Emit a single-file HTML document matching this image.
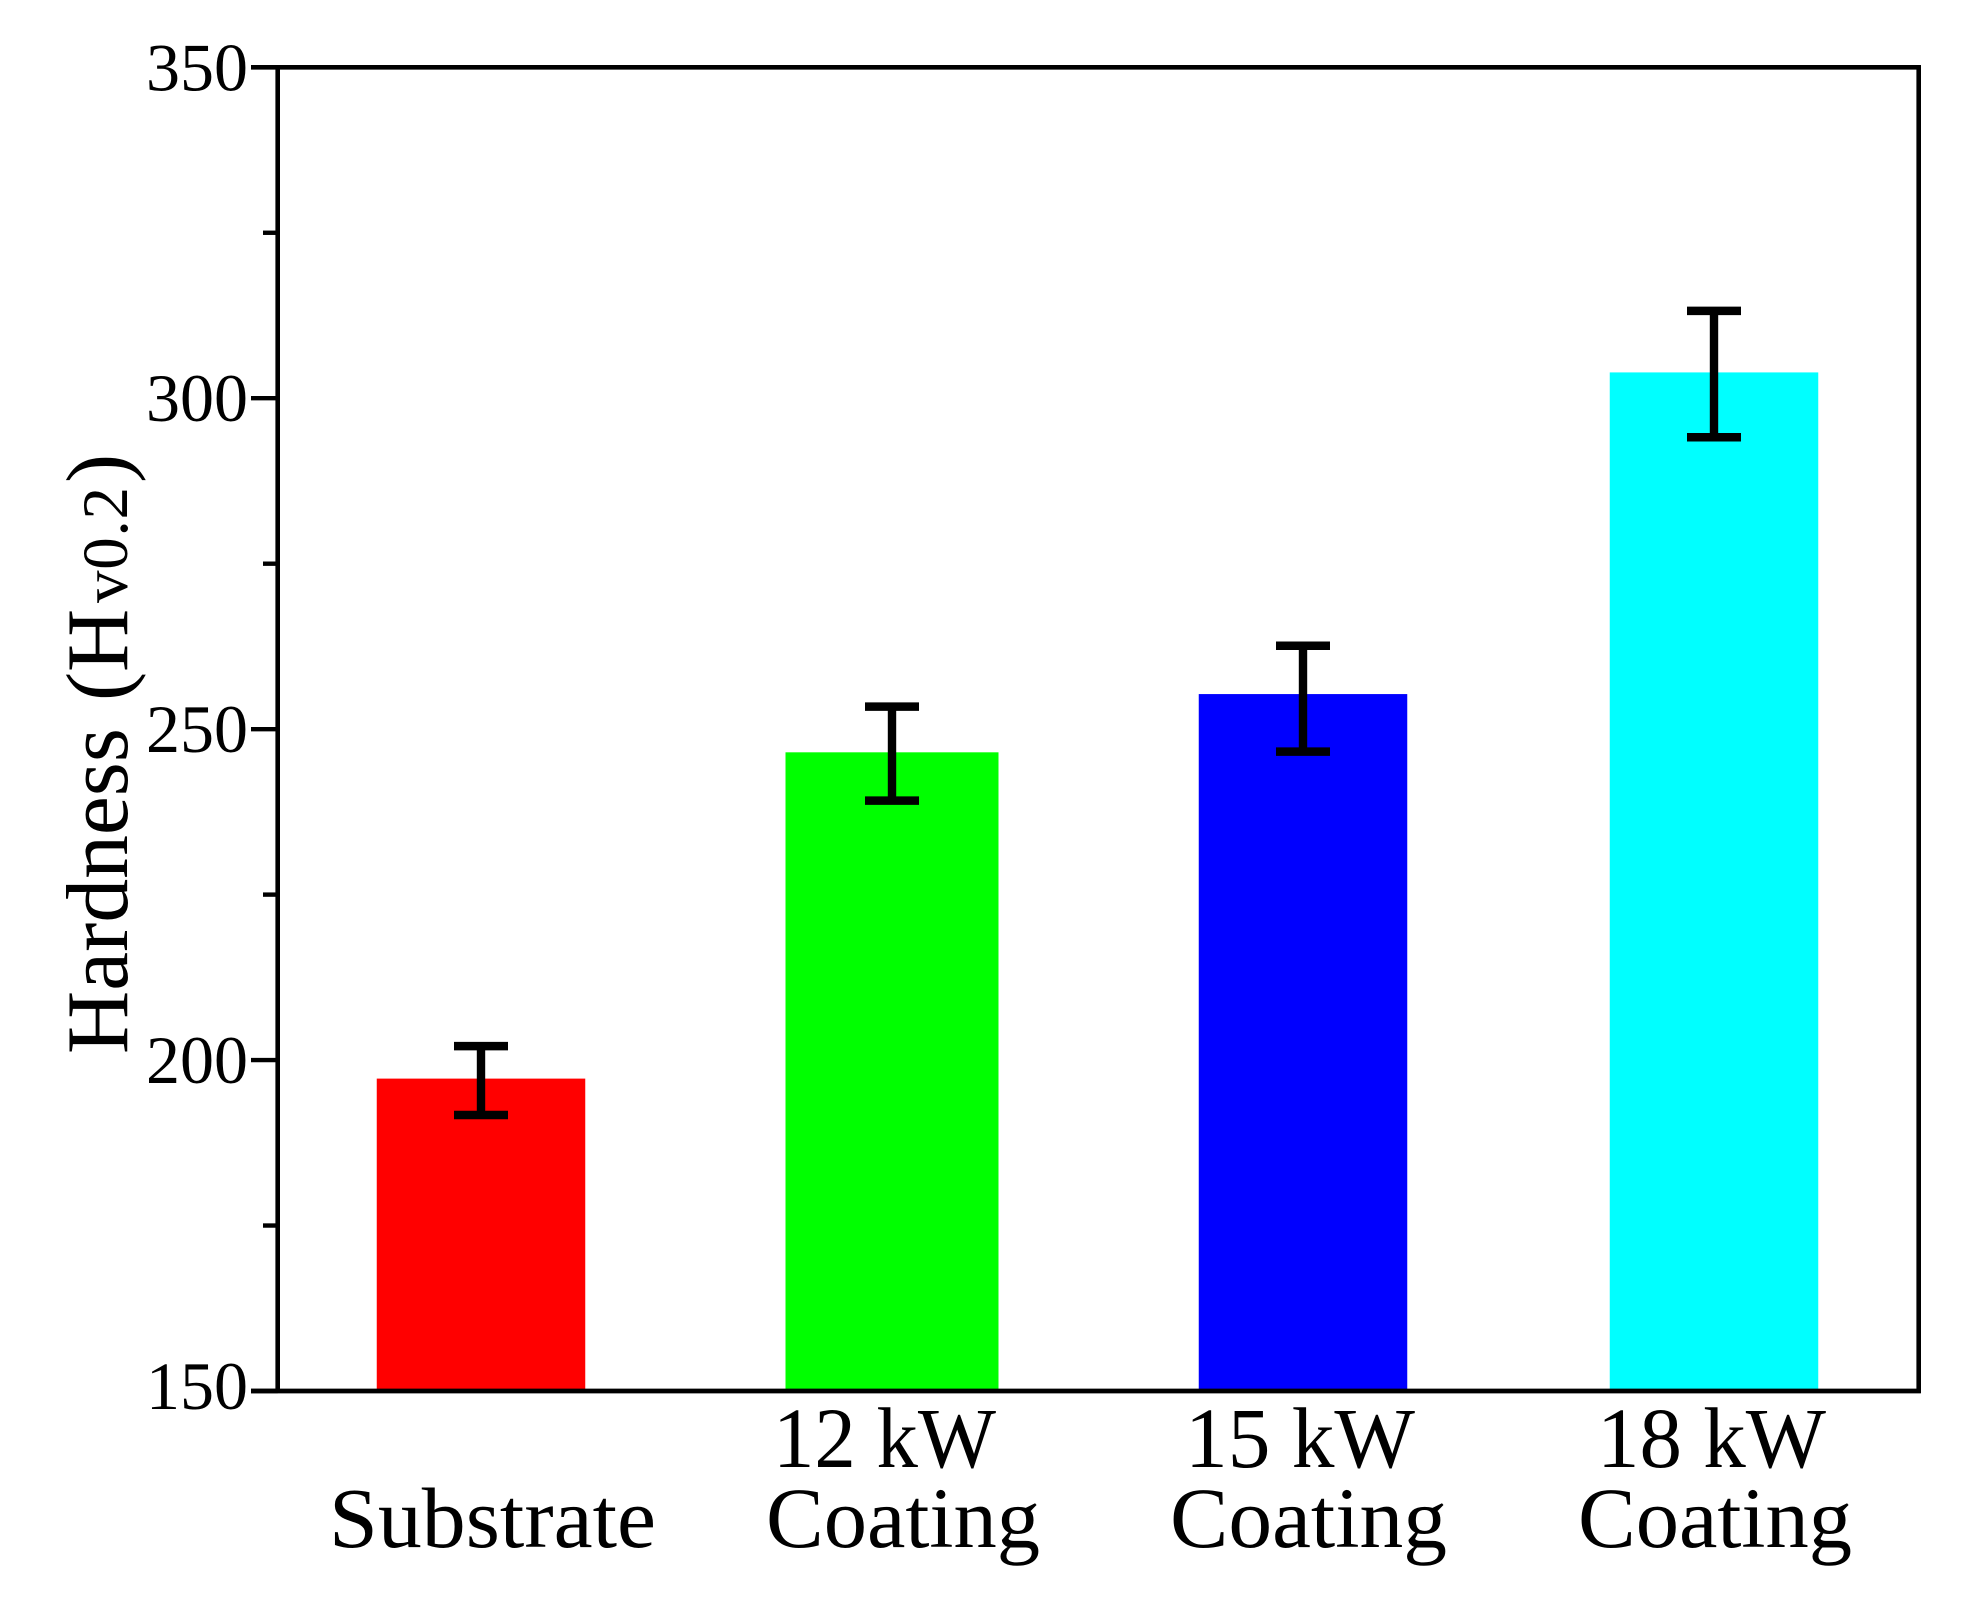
<!DOCTYPE html>
<html lang="en">
<head>
<meta charset="utf-8">
<title>Hardness chart</title>
<style>
html,body{margin:0;padding:0;background:#fff;width:1967px;height:1608px;overflow:hidden}
svg{display:block}
text{font-family:"Liberation Serif","Times New Roman",serif;fill:#000}
</style>
</head>
<body>
<svg id="chart" xmlns="http://www.w3.org/2000/svg" width="1967" height="1608" viewBox="0 0 1967 1608">
  <rect x="0" y="0" width="1967" height="1608" fill="#fff"/>
  <g id="bars"></g>
  <g id="errors"></g>
  <g id="axes"></g>
  <g id="ylabels"></g>
  <g font-size="86">
    <text x="329" y="1547" textLength="327" lengthAdjust="spacingAndGlyphs">Substrate</text>
    <text x="773" y="1467" textLength="223" lengthAdjust="spacingAndGlyphs">12 kW</text>
    <text x="766" y="1547" textLength="274" lengthAdjust="spacingAndGlyphs">Coating</text>
    <text x="1185" y="1467" textLength="230" lengthAdjust="spacingAndGlyphs">15 kW</text>
    <text x="1170" y="1547" textLength="277" lengthAdjust="spacingAndGlyphs">Coating</text>
    <text x="1597" y="1467" textLength="229" lengthAdjust="spacingAndGlyphs">18 kW</text>
    <text x="1578" y="1547" textLength="274" lengthAdjust="spacingAndGlyphs">Coating</text>
  </g>
  <g transform="translate(127,1054) rotate(-90)" font-size="87.5">
    <text x="0" y="0" textLength="326" lengthAdjust="spacingAndGlyphs">Hardness</text>
    <text x="353" y="0">(</text>
    <text x="382" y="0">H</text>
    <text x="451" y="0" font-size="65" textLength="116" lengthAdjust="spacing">v0.2</text>
    <text x="571" y="0">)</text>
  </g>
</svg>
<script>
const categories = ["Substrate", "12 kW Coating", "15 kW Coating", "18 kW Coating"];
const hardness = [197.2, 246.5, 255.3, 303.9];
const errorLow = [191.7, 239.2, 246.6, 294.1];
const errorHigh = [202.1, 253.4, 262.6, 313.2];
const colors = ["#ff0000", "#00ff00", "#0000ff", "#00ffff"];
const majorTicks = [150, 200, 250, 300, 350];
const minorTicks = [175, 225, 275, 325];

const NS = "http://www.w3.org/2000/svg";
const plotTop = 67.3, plotBottom = 1391, plotLeft = 277.7, plotRight = 1918.7;
const yMin = 150, yMax = 350;
function yScale(v) {
  return plotBottom - (v - yMin) / (yMax - yMin) * (plotBottom - plotTop);
}
function xCenter(i) {
  return 481 + i * 411;
}
function barWidthAt(i) {
  return i === 1 ? 213 : 208.5;
}
function line(parent, x1, y1, x2, y2, w) {
  const el = document.createElementNS(NS, "line");
  el.setAttribute("x1", x1);
  el.setAttribute("y1", y1);
  el.setAttribute("x2", x2);
  el.setAttribute("y2", y2);
  el.setAttribute("stroke", "#000");
  el.setAttribute("stroke-width", w);
  parent.appendChild(el);
  return el;
}

const barsG = document.getElementById("bars");
const errG = document.getElementById("errors");
const axesG = document.getElementById("axes");
const labelsG = document.getElementById("ylabels");
const capWidth = 54, baseY = yScale(yMin);

categories.forEach(function (cat, i) {
  const cx = xCenter(i);
  const top = yScale(hardness[i]);
  const w = barWidthAt(i);
  const bar = document.createElementNS(NS, "rect");
  
  
  bar.setAttribute("x", cx - w / 2);
  bar.setAttribute("y", top);
  bar.setAttribute("width", w);
  bar.setAttribute("height", baseY - top);
  bar.setAttribute("fill", colors[i]);
  barsG.appendChild(bar);

  const hi = yScale(errorHigh[i]);
  const lo = yScale(errorLow[i]);
  const stem = line(errG, cx, hi, cx, lo, 8.4);
  
  
  const capHi = line(errG, cx - capWidth / 2, hi, cx + capWidth / 2, hi, 8.5);
  
  
  const capLo = line(errG, cx - capWidth / 2, lo, cx + capWidth / 2, lo, 8.5);
  
  
});

const frameLeft = line(axesG, plotLeft, plotTop - 2, plotLeft, plotBottom + 2, 4.6);


const frameBottom = line(axesG, 251, plotBottom, plotRight + 2.2, plotBottom, 4.8);


const frameTop = line(axesG, 251, plotTop, plotRight + 2.2, plotTop, 4.6);


const frameRight = line(axesG, plotRight, plotTop - 2, plotRight, plotBottom + 2, 4.6);



majorTicks.forEach(function (t) {
  const y = yScale(t);
  const tick = line(axesG, 251, y, plotLeft, y, 4.4);
  
  
  const label = document.createElementNS(NS, "text");
  
  
  label.setAttribute("x", 248);
  label.setAttribute("y", Math.min(y + 23, 1409));
  label.setAttribute("text-anchor", "end");
  label.setAttribute("font-size", "68");
  label.textContent = String(t);
  labelsG.appendChild(label);
});
minorTicks.forEach(function (t) {
  const y = yScale(t);
  const tick = line(axesG, 263, y, plotLeft, y, 4.4);
  
  
});
</script>
</body>
</html>
